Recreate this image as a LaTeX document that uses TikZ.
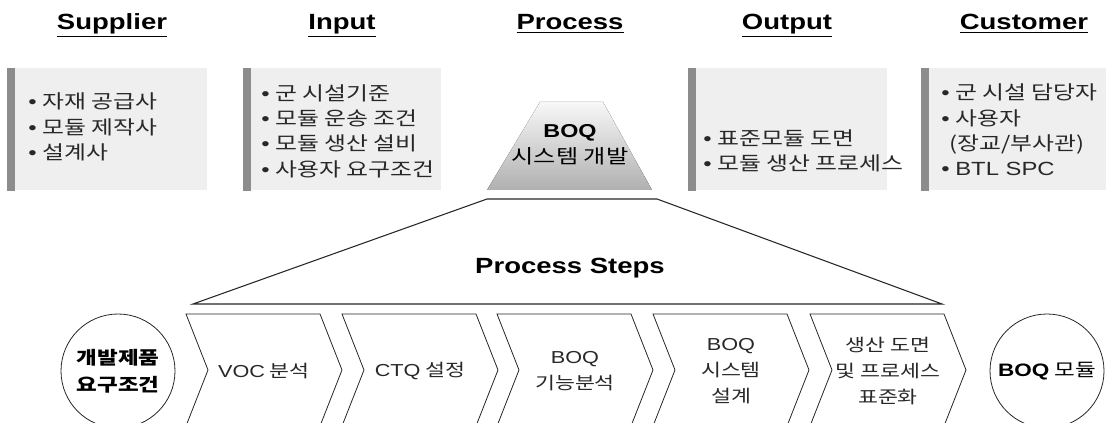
\documentclass[tikz,border=0pt]{standalone}
\usepackage{fontspec}
\setmainfont[FakeStretch=1.25]{Liberation Sans}
\newfontfamily\kr[FakeStretch=1.25]{Noto Sans CJK KR}
\usetikzlibrary{positioning}
\definecolor{boxgray}{RGB}{239,239,239}
\definecolor{bargray}{RGB}{140,140,140}
\definecolor{inkgray}{RGB}{40,40,40}
\newcommand{\en}[1]{{\rmfamily #1}}
\newcommand{\bul}{\en{\textbullet}\hspace{0.3em}}
\tikzset{
  header/.style={font=\fontsize{16.5}{20}\selectfont\bfseries, anchor=base},
  sipocbox/.style={fill=boxgray, anchor=north west, minimum height=91.5pt, inner sep=0pt},
  boxtext/.style={anchor=west, align=left, text=inkgray, inner sep=0pt,
    font=\kr\fontsize{14.3}{19}\selectfont},
  stepline/.style={draw=black!85, line width=0.6pt},
  steptext/.style={align=center, text=inkgray, inner sep=0pt,
    font=\kr\fontsize{13}{19.5}\selectfont},
  endcircle/.style={circle, draw=black!85, line width=0.6pt, minimum size=85.5pt,
    align=center, inner sep=0pt, font=\kr\fontsize{13.5}{20}\selectfont}
}

\begin{document}
\begin{tikzpicture}[x=0.75pt, y=-0.75pt]
  \useasboundingbox (0,0) rectangle (1112,423);
  \clip (0,0) rectangle (1112,423);

  % SIPOC headers
  \node[header] (supplier) at (112,30) {\underline{Supplier}};
  \node[header] (input)    at (342,30) {\underline{Input}};
  \node[header] (process)  at (570,30) {\underline{Process}};
  \node[header] (output)   at (787,30) {\underline{Output}};
  \node[header] (customer) at (1024,30) {\underline{Customer}};

  % grey boxes with side bar
  \node[sipocbox, minimum width=150pt] (supbox) at (7,68) {};
  \node[sipocbox, minimum width=148.5pt] (inbox) at (243,68) {};
  \node[sipocbox, minimum width=149.25pt] (outbox) at (688,68) {};
  \node[sipocbox, minimum width=138.75pt] (cusbox) at (921,68) {};
  \foreach \b in {supbox, inbox, outbox, cusbox}
    \fill[bargray] (\b.north west) rectangle ([xshift=6pt]\b.south west);

  \node[boxtext] (suptxt) at (28,127) {\bul 자재 공급사\\ \bul 모듈 제작사\\ \bul 설계사};
  \node[boxtext] (intxt) at (261,131) {\bul 군 시설기준\\ \bul 모듈 운송 조건\\
    \bul 모듈 생산 설비\\ \bul 사용자 요구조건};
  \node[boxtext] (outtxt) at (703,151) {\bul 표준모듈 도면\\ \bul 모듈 생산 프로세스};
  \node[boxtext] (custxt) at (941,130) {\bul 군 시설 담당자\\ \bul 사용자\\
    \phantom{\en{\textbullet}}(장교/부사관)\\ \bul \en{BTL SPC}};

  % BOQ system development
  \fill[top color=gray!6, bottom color=gray!62] (540,102) -- (603,102) -- (652,190) -- (487,190) -- cycle;
  \node[steptext, text=black, font=\kr\fontsize{14.5}{19.5}\selectfont] (boq) at (570,145)
    {\en{\bfseries\fontsize{14}{19.5}\selectfont BOQ}\\ 시스템 개발};

  % process steps frame
  \draw[stepline, line width=0.8pt] (487,199) -- (657,199) -- (942,304) -- (193,304) -- cycle;
  \node[header, text=black] (steps) at (570,274) {Process Steps};

  % steps
  \foreach \L/\nm/\txt in {186/voc/{\en{VOC} 분석}, 342/ctq/{\en{CTQ} 설정},
      497/func/{\en{BOQ}\\ 기능분석}, 653/design/{\en{BOQ}\\ 시스템\\ 설계},
      810/std/{생산 도면\\ 및 프로세스\\ 표준화}} {
    \draw[stepline] (\L,314) -- ++(134,0) -- ++(22,56) -- ++(-22,56) -- ++(-134,0) -- ++(22,-56) -- cycle;
    \node[steptext] (\nm) at (\L+78,371) {\txt};
  }

  \node[endcircle, font=\kr\bfseries\fontsize{13.5}{20}\selectfont] (req) at (118,371) {개발제품\\ 요구조건};
  \node[endcircle] (module) at (1047,371) {\en{\bfseries BOQ} 모듈};
\end{tikzpicture}
\end{document}
